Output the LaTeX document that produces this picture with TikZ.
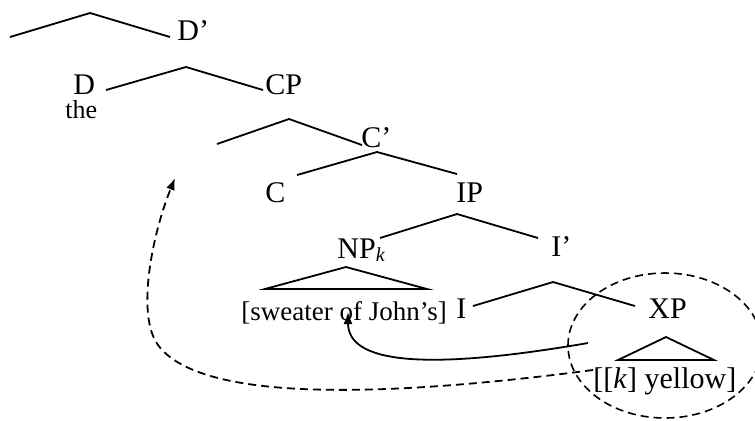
\documentclass[tikz,border=0pt]{standalone}
\usepackage{fontspec}
\setmainfont{Liberation Serif}
\usetikzlibrary{arrows.meta,shapes.geometric}

\tikzset{
  lbl/.style={inner sep=0pt, anchor=base west, font=\fontsize{15}{17}\selectfont},
  terminal/.style={inner sep=0pt, anchor=base west, font=\fontsize{13.5}{15}\selectfont},
  small/.style={inner sep=0pt, anchor=base west, font=\fontsize{13}{14}\selectfont},
  branch/.style={line width=0.9pt},
  move/.style={line width=0.9pt, -{Latex[length=6pt,width=4.5pt]}},
  dashmove/.style={move, dash pattern=on 4pt off 2.5pt}
}

\begin{document}
\begin{tikzpicture}[x=0.5pt,y=-0.5pt]
  \useasboundingbox (0,0) rectangle (755,420);

  % Labels
  \node[lbl] (Dbar) at (177,40) {D'};
  \node[lbl] (D) at (73,94) {D};
  \node[small] (the) at (65,118) {the};
  \node[lbl] (CP) at (265,94) {CP};
  \node[lbl] (Cbar) at (361,147) {C'};
  \node[lbl] (C) at (265,202) {C};
  \node[lbl] (IP) at (456,202) {IP};
  \node[lbl] (NP) at (337,258) {NP\raisebox{-1.5pt}{\fontsize{10}{10}\selectfont\textit{k}}};
  \node[lbl] (Ibar) at (551,256) {I'};
  \node[terminal] (sweater) at (241,320) {[sweater of John's]};
  \node[lbl] (I) at (456,318) {I};
  \node[lbl] (XP) at (648,318) {XP};
  \node[lbl] (yellow) at (593,388) {[[\textit{k}] yellow]};

  % Branches
  \coordinate (a1) at (90,13);
  \coordinate (a2) at (186,67);
  \coordinate (a3) at (289,119);
  \coordinate (a4) at (377,152);
  \coordinate (a5) at (457,214);
  \coordinate (a6) at (553,282);
  \draw[branch] (10,37) -- (a1) -- (170,37);
  \draw[branch] (106,90) -- (a2) -- (263,90);
  \draw[branch] (217,144) -- (a3) -- (362,145);
  \draw[branch] (297,175) -- (a4) -- (457,174);
  \draw[branch] (380,238) -- (a5) -- (538,238);
  \draw[branch] (473,306) -- (a6) -- (635,306);

  % Triangles
  \draw[branch] (265,289) -- (346,267) -- (427,289) -- cycle;
  \draw[branch] (618,360) -- (666,337) -- (714,360) -- cycle;

  % Circled XP
  \node[draw, ellipse, dash pattern=on 4pt off 2.5pt, line width=0.8pt,
        minimum width=97pt, minimum height=72.5pt, inner sep=0pt] (ring) at (665,345.5) {};

  % Movement
  \coordinate (tr1) at (588,343);
  \coordinate (tip1) at (348,312);
  \coordinate (tr2) at (593,370);
  \coordinate (spec) at (175,178);
  \draw[move] (tr1) .. controls (420,372) and (348,362) .. (tip1);
  \draw[dashmove] (tr2) .. controls (380,398) and (200,402) .. (158,345)
                       .. controls (136,315) and (152,235) .. (spec);
\end{tikzpicture}
\end{document}
